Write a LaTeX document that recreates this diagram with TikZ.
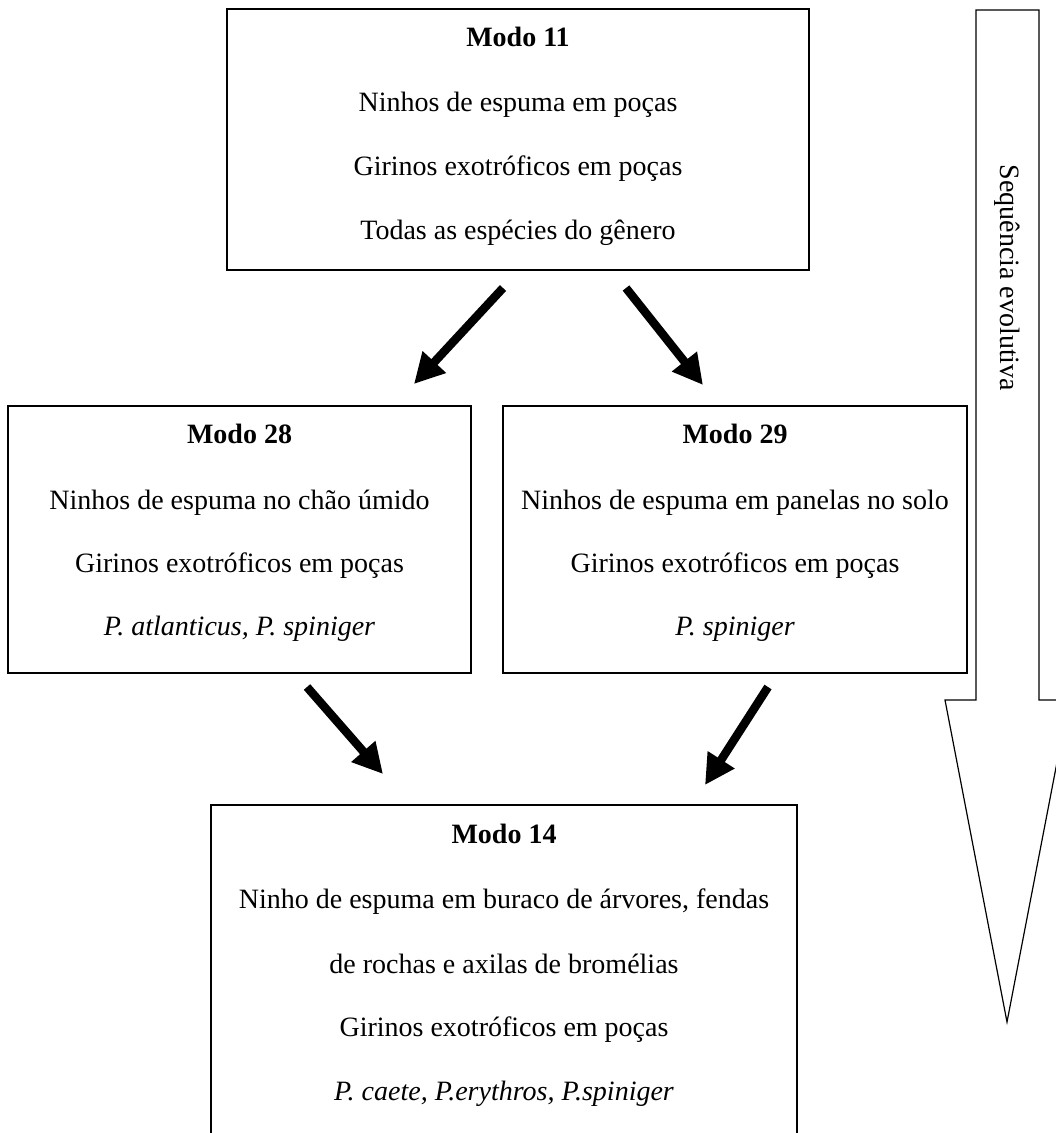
\documentclass[tikz,border=0pt]{standalone}
\usepackage{fontspec}
\setmainfont{Liberation Serif}
\usetikzlibrary{arrows.meta,calc}
\begin{document}
\begin{tikzpicture}[x=1pt,y=-1pt,
  boxline/.style={line width=1.6pt},
  txt/.style={font=\fontsize{28}{34}\selectfont,inner sep=0pt,anchor=base},
  ttl/.style={font=\fontsize{28}{34}\selectfont\bfseries,inner sep=0pt,anchor=base},
  flow/.style={line width=8.5pt,-{Triangle[length=30pt,width=30pt]}}]
\useasboundingbox (0,0) rectangle (1056,1133);
\clip (0,0) rectangle (1056,1133);
% boxes
\draw[boxline] (227,9) rectangle (809,270);
\draw[boxline] (8,406) rectangle (471,673);
\draw[boxline] (503,406) rectangle (967,673);
\draw[boxline] (211,805) rectangle (797,1160);
% texts Modo 11
\node[ttl] (t11) at (518,46) {Modo 11};
\node[txt] (a11) at (518,111) {Ninhos de espuma em poças};
\node[txt] (b11) at (518,175) {Girinos exotróficos em poças};
\node[txt] (c11) at (518,239) {Todas as espécies do gênero};
% Modo 28
\node[ttl] (t28) at (239.5,443) {Modo 28};
\node[txt] (a28) at (239.5,509) {Ninhos de espuma no chão úmido};
\node[txt] (b28) at (239.5,572) {Girinos exotróficos em poças};
\node[txt] (c28) at (239.5,635) {\itshape P. atlanticus, P. spiniger};
% Modo 29
\node[ttl] (t29) at (735,443) {Modo 29};
\node[txt] (a29) at (735,509) {Ninhos de espuma em panelas no solo};
\node[txt] (b29) at (735,572) {Girinos exotróficos em poças};
\node[txt] (c29) at (735,635) {\itshape P. spiniger};
% Modo 14
\node[ttl] (t14) at (504,843) {Modo 14};
\node[txt] (a14) at (504,908) {Ninho de espuma em buraco de árvores, fendas};
\node[txt] (b14) at (504,973) {de rochas e axilas de bromélias};
\node[txt] (c14) at (504,1036) {Girinos exotróficos em poças};
\node[txt] (d14) at (504,1100) {\itshape P. caete, P.erythros, P.spiniger};
% connectors
\coordinate (s1) at (503,288); \coordinate (e1) at (414,384);
\coordinate (s2) at (626,288); \coordinate (e2) at (703,385);
\coordinate (s3) at (307,687); \coordinate (e3) at (383,774);
\coordinate (s4) at (768,687); \coordinate (e4) at (705,785);
\draw[flow] (s1) -- (e1);
\draw[flow] (s2) -- (e2);
\draw[flow] (s3) -- (e3);
\draw[flow] (s4) -- (e4);
% big arrow
\draw[line width=1.2pt,fill=white] (976,10) -- (1039,10) -- (1039,700) -- (1069,700) -- (1007,1022) -- (945,700) -- (976,700) -- cycle;
\node[font=\fontsize{28}{34}\selectfont,rotate=-90,inner sep=0pt] (seq) at (1007,278) {Sequência evolutiva};
\end{tikzpicture}
\end{document}
